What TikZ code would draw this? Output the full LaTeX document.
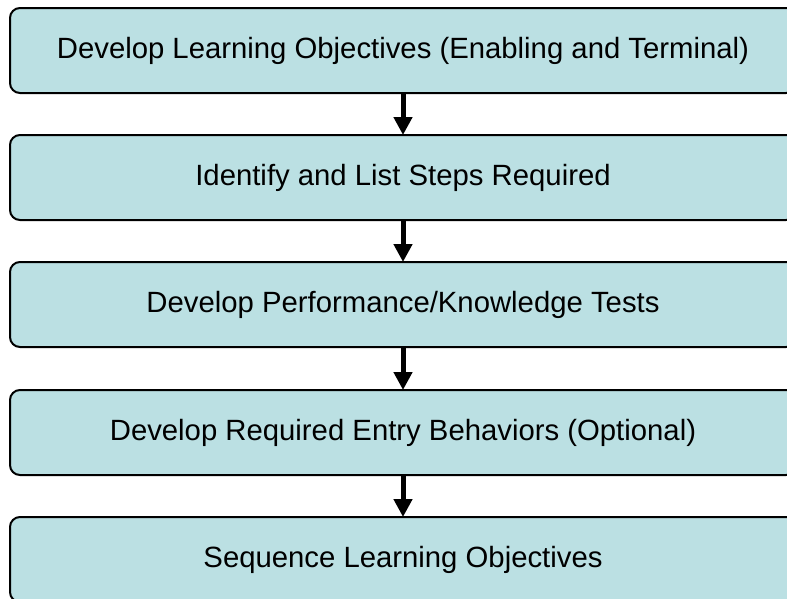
\documentclass[tikz,border=0pt]{standalone}
\usepackage{fontspec}
\setmainfont{Liberation Sans}
\usetikzlibrary{arrows.meta}
\definecolor{boxfill}{HTML}{BBE0E3}
\begin{document}
\begin{tikzpicture}[x=1pt,y=-1pt,
  stepbox/.style={draw=black,line width=2pt,fill=boxfill,rounded corners=10pt,minimum width=786pt,minimum height=85pt,inner sep=0pt,font=\fontsize{29.3}{34}\selectfont},
  flow/.style={line width=5pt,-{Triangle[width=18pt,length=18pt]},shorten >=-1pt}]
\useasboundingbox (0,0) rectangle (787,598);
\node[stepbox] (a) at (403,50.5) {Develop Learning Objectives (Enabling and Terminal)};
\node[stepbox] (b) at (403,177.5) {Identify and List Steps Required};
\node[stepbox] (c) at (403,304.5) {Develop Performance/Knowledge Tests};
\node[stepbox] (d) at (403,432.5) {Develop Required Entry Behaviors (Optional)};
\node[stepbox] (e) at (403,559.5) {Sequence Learning Objectives};
\draw[flow] (a) -- (b);
\draw[flow] (b) -- (c);
\draw[flow] (c) -- (d);
\draw[flow] (d) -- (e);
\end{tikzpicture}
\end{document}
